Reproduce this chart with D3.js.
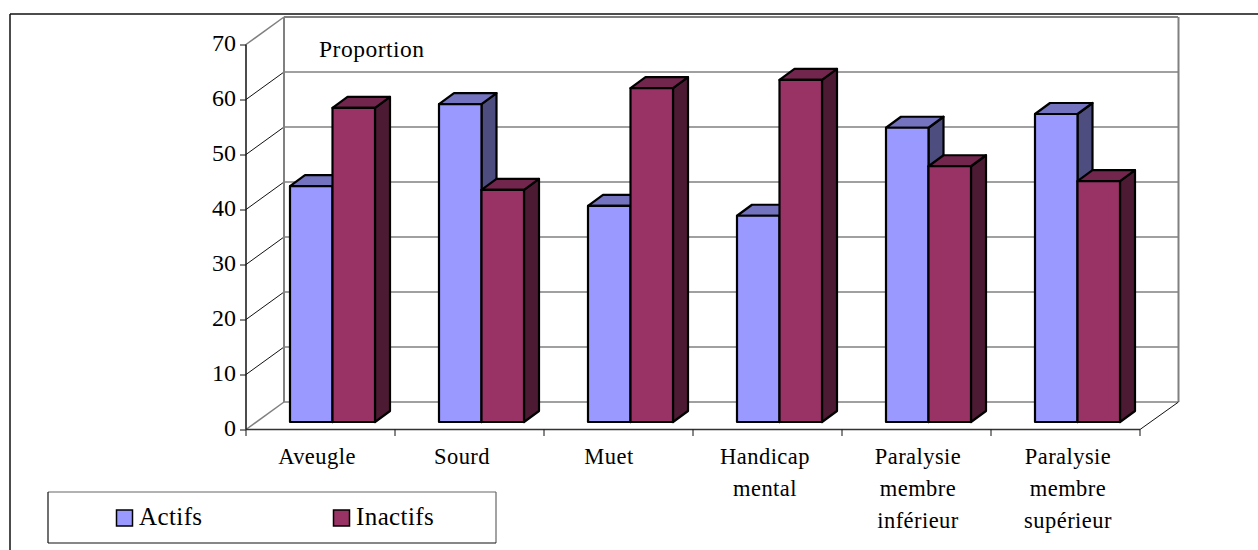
<!DOCTYPE html>
<html><head><meta charset="utf-8">
<script src="https://cdn.jsdelivr.net/npm/d3@7/dist/d3.min.js"></script>
<style>html,body{margin:0;padding:0;background:#fff}svg{display:block}text{font-family:"Liberation Serif",serif;fill:#000}</style>
</head><body><svg id="c" width="1258" height="550"></svg>
<script>
const categories = [["Aveugle"],["Sourd"],["Muet"],["Handicap","mental"],["Paralysie","membre","inférieur"],["Paralysie","membre","supérieur"]];
const catKeys = categories.map(c=>c.join(" ")+ "");
const actifs = [42.9,57.8,39.3,37.5,53.5,56];
const inactifs = [57.1,42.2,60.7,62.2,46.5,43.8];
const yTicks = [0,10,20,30,40,50,60,70];
const seriesNames = ["Actifs","Inactifs"];
const labelNudge = [-3.5,-7.5,-9.5,-2.5,1.5,2.5];

const svg = d3.select("#c");
const W=1258,H=550;
const y = d3.scaleLinear().domain([0,70]).range([429.5,44.5]);
const x = d3.scaleBand().domain(catKeys).range([246,1140]);
const wallDx=38, wallDy=-27.5;
const grey="#808080";
const line=(x1,y1,x2,y2,s,w)=>svg.append("line").attr("x1",x1).attr("y1",y1).attr("x2",x2).attr("y2",y2).attr("stroke",s).attr("stroke-width",w);

// outer frame
line(10,14,W,14,"#111",1.5);
line(10,14,10,H,"#111",1.5);

// back wall gridlines
yTicks.forEach(t=>{
  const yy=y(t)+wallDy;
  const edge=(t===0||t===70);
  line(x.range()[0]+wallDx,yy,x.range()[1]+wallDx,yy,grey,t===70?2:1.5);
  line(x.range()[0],y(t),x.range()[0]+wallDx,yy,edge?grey:"#111",edge?1.5:1);
});
line(284,y(70)+wallDy,284,y(0)+wallDy,grey,2);
line(1178.5,y(70)+wallDy,1178.5,y(0)+wallDy,grey,2);
line(1140,y(0),1178.5,y(0)+wallDy,"#111",1);

// bars
const barW=42.5, barDepthDx=15, barDepthDy=-11, barInset=44, floorDy=7.5;
const colors=[{f:"#9999FF",t:"#7373BF",s:"#4D4D80"},{f:"#993366",t:"#73264D",s:"#4D1A33"}];
function bar(cx,v,c){
  const top=y(v)-floorDy, base=y(0)-floorDy, g=svg.append("g").attr("stroke","#000").attr("stroke-width",2.2).attr("stroke-linejoin","round");
  const path=p=>g.append("path").attr("d",d3.line()(p)+"Z");
  path([[cx+barW,top],[cx+barW+barDepthDx,top+barDepthDy],[cx+barW+barDepthDx,base+barDepthDy],[cx+barW,base]]).attr("fill",c.s);
  path([[cx,top],[cx+barDepthDx,top+barDepthDy],[cx+barW+barDepthDx,top+barDepthDy],[cx+barW,top]]).attr("fill",c.t);
  path([[cx,top],[cx+barW,top],[cx+barW,base],[cx,base]]).attr("fill",c.f);
}
catKeys.forEach((k,i)=>{
  const x0=x(k)+barInset;
  bar(x0,actifs[i],colors[0]);
  bar(x0+barW,inactifs[i],colors[1]);
});

// axes
const axY=svg.append("g").attr("transform","translate(246,0)").call(d3.axisLeft(y).tickValues(yTicks).tickSize(6).tickPadding(4).tickFormat(d3.format("d")));
axY.selectAll("text").attr("font-size",24).attr("font-family","Liberation Serif").attr("dy",null).attr("y",6);
axY.selectAll("line").attr("stroke","#111").attr("stroke-width",1);
axY.select(".domain").attr("stroke","#111").attr("stroke-width",1.5).attr("d","M0,"+y(70)+"V"+y(0));
const axX=svg.append("g").attr("transform","translate(0,"+y(0)+")").call(d3.axisBottom(x).tickSize(0).tickFormat(""));
axX.select(".domain").attr("stroke","#333").attr("stroke-width",1.5).attr("d","M246,0H1140");
catKeys.concat([null]).forEach(k=>{
  const xx=k?x(k):1140;
  line(xx,y(0),xx,y(0)+6.5,"#111",1);
});

// category labels
categories.forEach((lines,i)=>{
  const cx=x(catKeys[i])+x.bandwidth()/2+labelNudge[i];
  lines.forEach((s,j)=>{
    svg.append("text").attr("x",cx).attr("y",464+32*j).attr("text-anchor","middle").attr("font-size",22.5).attr("letter-spacing",0.45).text(s);
  });
});

svg.append("text").attr("x",319).attr("y",57).attr("font-size",23.5).attr("letter-spacing",0.5).text("Proportion");

// legend
svg.append("rect").attr("x",48).attr("y",492).attr("width",448).attr("height",51).attr("fill","#fff").attr("stroke","none");
line(48,492,496,492,"#666",1.2);
line(496,492,496,543,"#666",1.2);
line(48,543,496,543,"#111",1.2);
line(48,492,48,543,"#111",1.2);
[[116.5,139],[333.5,356]].forEach((p,i)=>{
  svg.append("rect").attr("x",p[0]).attr("y",510).attr("width",16).attr("height",16).attr("fill",colors[i].f).attr("stroke","#000").attr("stroke-width",1.5);
  svg.append("text").attr("x",p[1]).attr("y",525).attr("font-size",25).attr("letter-spacing",0.4).text(seriesNames[i]);
});
</script></body></html>
